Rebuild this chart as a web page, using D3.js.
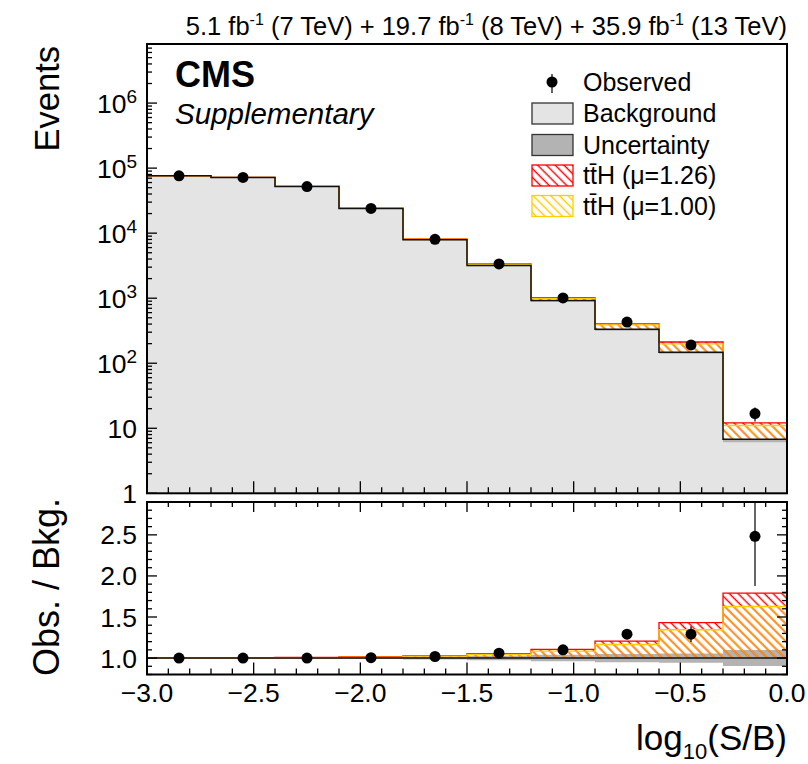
<!DOCTYPE html>
<html><head><meta charset="utf-8">
<script src="https://cdn.jsdelivr.net/npm/d3@7"></script>
<style>
body{margin:0;background:#fff}
text{font-family:'Liberation Sans',Arial,Helvetica,sans-serif;fill:#000}
</style>
</head><body>
<svg id="c" width="808" height="764" xmlns="http://www.w3.org/2000/svg"></svg>
<script>
// ---------------- data ----------------
const binEdges   = [-3.0, -2.7, -2.4, -2.1, -1.8, -1.5, -1.2, -0.9, -0.6, -0.3, 0.0];
const background = [7.6e4, 7.2e4, 5.2e4, 2.39e4, 7.9e3, 3.18e3, 918, 333, 148, 6.77];
const observed   = [7.6e4, 7.2e4, 5.2e4, 2.4e4, 8.05e3, 3.37e3, 1010, 430, 191, 16.8];
const bkgUncRel  = [0.004, 0.005, 0.008, 0.012, 0.016, 0.028, 0.04, 0.05, 0.057, 0.097];
const sigMu126   = [139, 252, 365, 378, 237, 174, 98, 69, 64, 5.35];
const sigMu100   = [110, 200, 290, 300, 188, 138, 78, 55, 51, 4.25];
const xTicksLabels = ["\u22123.0", "\u22122.5", "\u22122.0", "\u22121.5", "\u22121.0", "\u22120.5", "0.0"];
const xTickValues  = [-3.0, -2.5, -2.0, -1.5, -1.0, -0.5, 0.0];
const ratioTickValues = [1.0, 1.5, 2.0, 2.5];
const ratioTickLabels = ["1.0", "1.5", "2.0", "2.5"];
const legendLabels = ["Observed", "Background", "Uncertainty", "tt\u0304H (\u03bc=1.26)", "tt\u0304H (\u03bc=1.00)"];

// ---------------- setup ----------------
const svg = d3.select('#c');
const defs = svg.append('defs');
const L = 147, R = 787;
const x = d3.scaleLinear().domain([-3, 0]).range([L, R]);
const yTop = d3.scaleLog().domain([1, 8.1e6]).range([493.3, 44]);
const yRat = d3.scaleLinear().domain([0.8, 2.9]).range([674.5, 502]);
const topBox = {y0: 44, y1: 493.3};
const ratBox = {y0: 502, y1: 674.5};

const RED = '#ff0000', YEL = '#ffcc00', BKG = '#e4e4e4', UNC = '#b3b3b3';

function hatch(id, color, op) {
  const p = defs.append('pattern').attr('id', id).attr('patternUnits', 'userSpaceOnUse')
    .attr('width', 6.2).attr('height', 6.2).attr('patternTransform', 'rotate(-45)');
  p.append('line').attr('x1', 3).attr('x2', 3).attr('y1', -1).attr('y2', 8)
    .attr('stroke', color).attr('stroke-width', 1.4).attr('stroke-opacity', op);
}
hatch('hR', RED, 1);
hatch('hY', YEL, 0.8);
hatch('hYL', YEL, 1);

defs.append('clipPath').attr('id', 'clipTop').append('rect')
  .attr('x', L).attr('y', topBox.y0).attr('width', R - L).attr('height', topBox.y1 - topBox.y0);
defs.append('clipPath').attr('id', 'clipRat').append('rect')
  .attr('x', L).attr('y', ratBox.y0).attr('width', R - L).attr('height', ratBox.y1 - ratBox.y0);

function steps(fLo, fHi) {
  return binEdges.map((e, i) => {
    const k = Math.min(i, background.length - 1);
    return {x: e, lo: fLo(k), hi: fHi(k)};
  });
}
function area(ys, pts) {
  return d3.area().curve(d3.curveStepAfter).x(d => x(d.x)).y0(d => ys(d.lo)).y1(d => ys(d.hi))(pts);
}
function line(ys, pts) {
  return d3.line().curve(d3.curveStepAfter).x(d => x(d.x)).y(d => ys(d.hi))(pts);
}

// ---------------- upper panel ----------------
const gT = svg.append('g').attr('clip-path', 'url(#clipTop)');
gT.append('path').attr('d', area(yTop, steps(k => 1, k => background[k]))).attr('fill', BKG);
gT.append('path').attr('d', area(yTop, steps(k => background[k] * (1 - bkgUncRel[k]), k => background[k] * (1 + bkgUncRel[k])))).attr('fill', UNC);
const redPts = steps(k => background[k], k => background[k] + sigMu126[k]);
const yelPts = steps(k => background[k], k => background[k] + sigMu100[k]);
gT.append('path').attr('d', area(yTop, redPts)).attr('fill', '#fff');
gT.append('path').attr('d', area(yTop, redPts)).attr('fill', 'url(#hR)');
gT.append('path').attr('d', area(yTop, yelPts)).attr('fill', 'url(#hY)');
gT.append('path').attr('d', line(yTop, redPts)).attr('fill', 'none').attr('stroke', RED).attr('stroke-width', 1.3);
gT.append('path').attr('d', line(yTop, yelPts)).attr('fill', 'none').attr('stroke', YEL).attr('stroke-width', 1.3);
gT.append('path').attr('d', line(yTop, steps(k => 0, k => background[k]))).attr('fill', 'none').attr('stroke', '#111').attr('stroke-width', 1.5);

const centers = background.map((_, i) => (binEdges[i] + binEdges[i + 1]) / 2);
gT.selectAll('line.eb').data(observed).enter().append('line')
  .attr('x1', (d, i) => x(centers[i])).attr('x2', (d, i) => x(centers[i]))
  .attr('y1', d => yTop(d + Math.sqrt(d))).attr('y2', d => yTop(Math.max(d - Math.sqrt(d), 1e-3)))
  .attr('stroke', '#000').attr('stroke-width', 1.2);
gT.selectAll('circle').data(observed).enter().append('circle')
  .attr('cx', (d, i) => x(centers[i])).attr('cy', d => yTop(d)).attr('r', 5.5).attr('fill', '#000');

// ---------------- ratio panel ----------------
const gR = svg.append('g').attr('clip-path', 'url(#clipRat)');
gR.append('path').attr('d', area(yRat, steps(k => 1 - bkgUncRel[k], k => 1 + bkgUncRel[k]))).attr('fill', UNC);
const rRed = steps(k => 1, k => (background[k] + sigMu126[k]) / background[k]);
const rYel = steps(k => 1, k => (background[k] + sigMu100[k]) / background[k]);
gR.append('path').attr('d', area(yRat, rRed)).attr('fill', 'url(#hR)');
gR.append('path').attr('d', area(yRat, rYel)).attr('fill', 'url(#hY)');
gR.append('path').attr('d', line(yRat, rRed)).attr('fill', 'none').attr('stroke', RED).attr('stroke-width', 1.3);
gR.append('path').attr('d', line(yRat, rYel)).attr('fill', 'none').attr('stroke', YEL).attr('stroke-width', 1.3);
gR.append('path').attr('d', line(yRat, steps(k => 1, k => 1))).attr('fill', 'none').attr('stroke', '#111').attr('stroke-width', 1.5);
const ratio = observed.map((d, i) => d / background[i]);
const ratioErr = observed.map((d, i) => Math.sqrt(d) / background[i]);
gR.selectAll('line.eb').data(ratio).enter().append('line')
  .attr('x1', (d, i) => x(centers[i])).attr('x2', (d, i) => x(centers[i]))
  .attr('y1', (d, i) => yRat(d + ratioErr[i])).attr('y2', (d, i) => yRat(d - ratioErr[i]))
  .attr('stroke', '#000').attr('stroke-width', 1.2);
gR.selectAll('circle').data(ratio).enter().append('circle')
  .attr('cx', (d, i) => x(centers[i])).attr('cy', d => yRat(d)).attr('r', 5.5).attr('fill', '#000');

// ---------------- frames & ticks ----------------
const axes = svg.append('g').attr('stroke', '#000').attr('fill', 'none');
axes.append('rect').attr('x', L).attr('y', topBox.y0).attr('width', R - L).attr('height', topBox.y1 - topBox.y0).attr('stroke-width', 2);
axes.append('rect').attr('x', L).attr('y', ratBox.y0).attr('width', R - L).attr('height', ratBox.y1 - ratBox.y0).attr('stroke-width', 2);

const xMinor = d3.range(0, 31).map(i => -3 + i * 0.1);
function isMajorX(v) { return Math.abs(v * 2 - Math.round(v * 2)) < 1e-6; }
xMinor.forEach(v => {
  const len = isMajorX(v) ? 12 : 6;
  axes.append('line').attr('x1', x(v)).attr('x2', x(v)).attr('y1', topBox.y1).attr('y2', topBox.y1 - len).attr('stroke-width', 1.3);
  axes.append('line').attr('x1', x(v)).attr('x2', x(v)).attr('y1', ratBox.y0).attr('y2', ratBox.y0 + (isMajorX(v) ? 10 : 5)).attr('stroke-width', 1.3);
  axes.append('line').attr('x1', x(v)).attr('x2', x(v)).attr('y1', ratBox.y1).attr('y2', ratBox.y1 - (isMajorX(v) ? 12 : 6)).attr('stroke-width', 1.3);
});
yTop.ticks(80).forEach(v => {
  const lg = Math.log10(v);
  const major = Math.abs(lg - Math.round(lg)) < 1e-9;
  axes.append('line').attr('x1', L).attr('x2', L + (major ? 10 : 5)).attr('y1', yTop(v)).attr('y2', yTop(v)).attr('stroke-width', 1.3);
});
d3.range(8, 30).map(i => i / 10).forEach(v => {
  const major = Math.abs(v * 2 - Math.round(v * 2)) < 1e-6;
  const len = major ? 10 : 5;
  axes.append('line').attr('x1', L).attr('x2', L + len).attr('y1', yRat(v)).attr('y2', yRat(v)).attr('stroke-width', 1.3);
  axes.append('line').attr('x1', R).attr('x2', R - len).attr('y1', yRat(v)).attr('y2', yRat(v)).attr('stroke-width', 1.3);
});

// ---------------- tick labels ----------------
const TL = 26.5;
const labs = svg.append('g').attr('font-size', TL);
[0, 1, 2, 3, 4, 5, 6].forEach(p => {
  const t = labs.append('text').attr('x', 137).attr('y', yTop(Math.pow(10, p)) + 9.5).attr('text-anchor', 'end');
  if (p === 0) t.text('1');
  else if (p === 1) t.text('10');
  else { t.append('tspan').text('10'); t.append('tspan').attr('dy', -10).attr('font-size', 19).text(String(p)); }
});
ratioTickValues.forEach((v, i) => {
  labs.append('text').attr('x', 137).attr('y', yRat(v) + 9.5).attr('text-anchor', 'end').text(ratioTickLabels[i]);
});
xTickValues.forEach((v, i) => {
  labs.append('text').attr('x', x(v)).attr('y', 702).attr('text-anchor', 'middle').text(xTicksLabels[i]);
});

// ---------------- titles ----------------
const tt = svg.append('text').attr('x', 787).attr('y', 35).attr('text-anchor', 'end').attr('font-size', 25.5);
[["5.1 fb", "-1", " (7 TeV) + 19.7 fb"], ["", "-1", " (8 TeV) + 35.9 fb"], ["", "-1", " (13 TeV)"]].forEach(seg => {
  if (seg[0]) tt.append('tspan').text(seg[0]);
  tt.append('tspan').attr('dy', -10).attr('font-size', 16).text(seg[1]);
  tt.append('tspan').attr('dy', 10).text(seg[2]);
});

svg.append('text').attr('x', 175).attr('y', 87).attr('font-size', 36).attr('font-weight', 'bold').text('CMS');
svg.append('text').attr('x', 175).attr('y', 124).attr('font-size', 29.5).attr('font-style', 'italic').text('Supplementary');

svg.append('text').attr('transform', 'translate(59,46) rotate(-90)').attr('text-anchor', 'end').attr('font-size', 34.5).text('Events');
svg.append('text').attr('transform', 'translate(59,498) rotate(-90)').attr('text-anchor', 'end').attr('font-size', 36).text('Obs. / Bkg.');

const xl = svg.append('text').attr('x', 787).attr('y', 750).attr('text-anchor', 'end').attr('font-size', 35);
xl.append('tspan').text('log');
xl.append('tspan').attr('dy', 9).attr('font-size', 22).text('10');
xl.append('tspan').attr('dy', -9).text('(S/B)');

// ---------------- legend ----------------
const lg = svg.append('g');
const rowY = [82, 113.5, 145, 175.5, 206];
lg.append('line').attr('x1', 552).attr('x2', 552).attr('y1', 74).attr('y2', 93).attr('stroke', '#000').attr('stroke-width', 1.2);
lg.append('circle').attr('cx', 552).attr('cy', rowY[0]).attr('r', 5.5).attr('fill', '#000');
const boxFill = [null, BKG, UNC, 'url(#hR)', 'url(#hYL)'];
const boxStroke = [null, '#333', '#333', RED, YEL];
for (let i = 1; i < 5; i++) {
  lg.append('rect').attr('x', 532).attr('y', rowY[i] - 10.5).attr('width', 41).attr('height', 21)
    .attr('fill', boxFill[i]).attr('stroke', boxStroke[i]).attr('stroke-width', 1.3);
}
legendLabels.forEach((t, i) => {
  lg.append('text').attr('x', 583).attr('y', rowY[i] + 8.5).attr('font-size', 25).text(t);
});
</script>
</body></html>
